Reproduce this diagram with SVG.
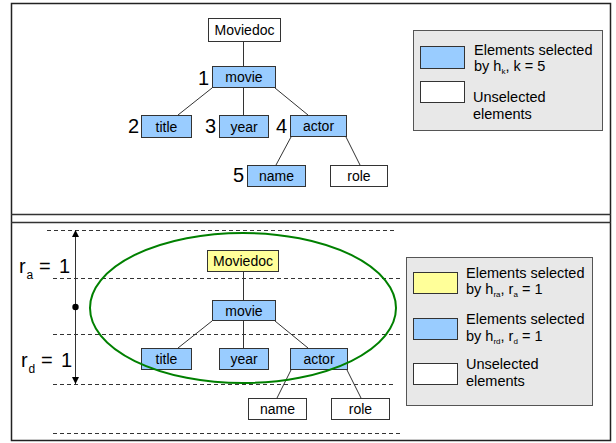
<svg xmlns="http://www.w3.org/2000/svg" width="616" height="443" viewBox="0 0 616 443">
<defs>
<style>
text{font-family:"Liberation Sans",Arial,sans-serif;fill:#000}
.nt{font-size:14px;text-anchor:middle}
.num{font-size:20px;text-anchor:end}
.lg{font-size:14.5px}
.blue{fill:#99CCFF;stroke:#333;stroke-width:1}
.white{fill:#FFFFFF;stroke:#333;stroke-width:1}
.yellow{fill:#FFFF99;stroke:#333;stroke-width:1}
.edge{stroke:#333;stroke-width:1;fill:none}
.dash{stroke:#333;stroke-width:1;stroke-dasharray:4 3;fill:none}
.legend{fill:#E8E8E8;stroke:#555;stroke-width:1}
</style>
<marker id="ah" viewBox="0 0 10 10" refX="10" refY="5" markerWidth="7" markerHeight="9" orient="auto" markerUnits="userSpaceOnUse">
<path d="M0,0 L10,5 L0,10 Z" fill="#000"/>
</marker>
</defs>
<rect x="0" y="0" width="616" height="443" fill="#fff"/>
<g id="frame">
<rect x="11.5" y="3.5" width="599" height="437" fill="none" stroke="#222" stroke-width="1.5"/>
<line x1="11" y1="214.5" x2="611" y2="214.5" stroke="#333" stroke-width="1.5"/>
<line x1="11" y1="222.5" x2="611" y2="222.5" stroke="#333" stroke-width="1.5"/>
</g>

<!-- Top panel -->
<g id="connectors-top">
<line class="edge" x1="243.5" y1="41" x2="243.5" y2="66"/>
<line class="edge" x1="212" y1="88" x2="178" y2="115"/>
<line class="edge" x1="243.5" y1="88" x2="243.5" y2="115"/>
<line class="edge" x1="275" y1="88" x2="308" y2="115"/>
<line class="edge" x1="291" y1="137" x2="276" y2="165"/>
<line class="edge" x1="346" y1="137" x2="360" y2="165"/>
</g>
<g id="top-moviedoc"><rect class="white" x="208.5" y="18.5" width="72" height="23"/><text class="nt" x="244.5" y="35">Moviedoc</text></g>
<g id="top-movie"><rect class="blue" x="212.5" y="66.5" width="63" height="21"/><text class="nt" x="244" y="82">movie</text><text class="num" x="209" y="84.5">1</text></g>
<g id="top-title"><rect class="blue" x="141.5" y="115.5" width="50" height="22"/><text class="nt" x="166.5" y="131.5">title</text><text class="num" x="139" y="132.5">2</text></g>
<g id="top-year"><rect class="blue" x="219.5" y="115.5" width="49" height="22"/><text class="nt" x="244" y="131.5">year</text><text class="num" x="216" y="132.5">3</text></g>
<g id="top-actor"><rect class="blue" x="290.5" y="115.5" width="56" height="21"/><text class="nt" x="318.5" y="131">actor</text><text class="num" x="287" y="132.5">4</text></g>
<g id="top-name"><rect class="blue" x="247.5" y="165.5" width="58" height="21"/><text class="nt" x="276.5" y="181">name</text><text class="num" x="244" y="182">5</text></g>
<g id="top-role"><rect class="white" x="330.5" y="165.5" width="57" height="21"/><text class="nt" x="359" y="181">role</text></g>
<g id="top-legend">
<rect class="legend" x="413.5" y="30.5" width="189" height="100"/>
<rect class="blue" x="420.5" y="46.5" width="44" height="22"/>
<text class="lg" x="474" y="55">Elements selected</text>
<text class="lg" x="474" y="71">by h<tspan font-size="8" dy="3">k</tspan><tspan dy="-3">, k = 5</tspan></text>
<rect class="white" x="420.5" y="81.5" width="44" height="21"/>
<text class="lg" x="473" y="102">Unselected</text>
<text class="lg" x="473" y="119">elements</text>
</g>

<!-- Bottom panel -->
<g id="guides">
<line class="dash" x1="47" y1="230.5" x2="395" y2="230.5"/>
<line class="dash" x1="53" y1="278.5" x2="402" y2="278.5"/>
<line class="dash" x1="53" y1="334.5" x2="402" y2="334.5"/>
<line class="dash" x1="53" y1="384.5" x2="396" y2="384.5"/>
<line class="dash" x1="53" y1="433.5" x2="402" y2="433.5"/>
<line x1="75.5" y1="307" x2="75.5" y2="230" stroke="#333" stroke-width="1" marker-end="url(#ah)"/>
<line x1="75.5" y1="307" x2="75.5" y2="384" stroke="#333" stroke-width="1" marker-end="url(#ah)"/>
<circle cx="75.5" cy="307" r="3.2" fill="#000"/>
<text font-size="20" x="19" y="273">r</text>
<text font-size="12" x="26.5" y="279">a</text>
<text font-size="20" x="39" y="273">=</text>
<text font-size="20" x="59" y="273">1</text>
<text font-size="20" x="21" y="367">r</text>
<text font-size="12" x="28.5" y="373">d</text>
<text font-size="20" x="41" y="367">=</text>
<text font-size="20" x="61" y="367">1</text>
</g>
<g id="connectors-bottom">
<line class="edge" x1="243.5" y1="272" x2="243.5" y2="300"/>
<line class="edge" x1="212" y1="321" x2="178" y2="348"/>
<line class="edge" x1="243.5" y1="321" x2="243.5" y2="348"/>
<line class="edge" x1="275" y1="321" x2="308" y2="348"/>
<line class="edge" x1="291" y1="370" x2="277" y2="398"/>
<line class="edge" x1="347" y1="370" x2="361" y2="398"/>
</g>
<g id="bot-moviedoc"><rect class="yellow" x="207.5" y="250.5" width="71" height="21"/><text class="nt" x="243" y="266">Moviedoc</text></g>
<g id="bot-movie"><rect class="blue" x="212.5" y="300.5" width="63" height="20"/><text class="nt" x="244" y="315.5">movie</text></g>
<g id="bot-title"><rect class="blue" x="141.5" y="348.5" width="50" height="21"/><text class="nt" x="166.5" y="364">title</text></g>
<g id="bot-year"><rect class="blue" x="219.5" y="348.5" width="49" height="21"/><text class="nt" x="244" y="364">year</text></g>
<g id="bot-actor"><rect class="blue" x="290.5" y="348.5" width="57" height="21"/><text class="nt" x="319" y="363.5">actor</text></g>
<g id="bot-name"><rect class="white" x="248.5" y="398.5" width="58" height="21"/><text class="nt" x="277.5" y="414">name</text></g>
<g id="bot-role"><rect class="white" x="331.5" y="398.5" width="58" height="21"/><text class="nt" x="360.5" y="414">role</text></g>
<g id="ellipse"><ellipse cx="243" cy="308" rx="153" ry="75" fill="none" stroke="#008000" stroke-width="2"/></g>
<g id="bottom-legend">
<rect class="legend" x="406.5" y="257.5" width="186" height="148"/>
<rect class="yellow" x="413.5" y="272.5" width="44" height="21"/>
<text class="lg" x="466" y="278">Elements selected</text>
<text class="lg" x="466" y="294">by h<tspan font-size="8" dy="3">ra</tspan><tspan dy="-3">, r</tspan><tspan font-size="8" dy="3">a</tspan><tspan dy="-3"> = 1</tspan></text>
<rect class="blue" x="413.5" y="318.5" width="44" height="21"/>
<text class="lg" x="466" y="324">Elements selected</text>
<text class="lg" x="466" y="341">by h<tspan font-size="8" dy="3">rd</tspan><tspan dy="-3">, r</tspan><tspan font-size="8" dy="3">d</tspan><tspan dy="-3"> = 1</tspan></text>
<rect class="white" x="413.5" y="363.5" width="44" height="21"/>
<text class="lg" x="466" y="369">Unselected</text>
<text class="lg" x="466" y="386">elements</text>
</g>
</svg>
